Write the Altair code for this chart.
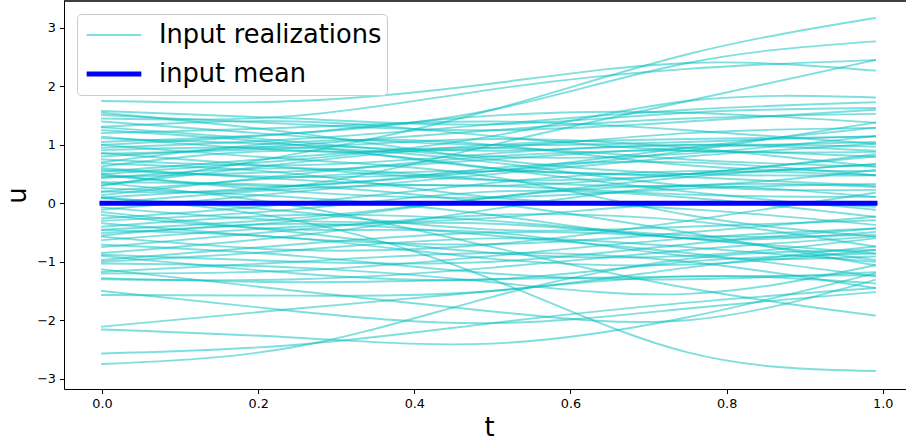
import altair as alt
import pandas as pd

T_KNOTS = [0.0, 0.25, 0.5, 0.75, 0.99]

# realizations: u at the knots
TOP_CURVES = [
    [1.75, 1.75, 2.05, 2.40, 2.27],
    [1.45, 1.50, 1.95, 2.30, 2.45],
    [0.20, 0.30, 1.00, 1.75, 2.45],
    [0.30, 0.85, 1.60, 2.55, 3.17],
    [1.05, 1.20, 1.60, 2.40, 2.77],
    [0.50, 0.75, 1.15, 1.75, 1.81],
]
UPPER_CURVES = [
    [1.58, 1.45, 1.35, 1.55, 1.63],
    [1.55, 1.20, 0.75, 0.50, 0.48],
    [1.51, 1.35, 1.25, 1.40, 1.60],
    [1.40, 1.15, 1.00, 1.05, 1.15],
    [1.31, 1.40, 1.15, 0.90, 0.88],
    [1.30, 1.05, 0.80, 0.85, 1.15],
    [1.25, 1.00, 0.60, 0.50, 0.67],
    [1.20, 1.30, 1.40, 1.25, 1.02],
    [1.14, 0.90, 0.95, 1.20, 1.29],
    [1.11, 1.00, 0.90, 1.00, 0.97],
    [1.00, 0.75, 0.45, -0.20, -0.57],
    [1.00, 1.20, 1.50, 1.55, 1.38],
    [0.95, 1.10, 1.35, 1.60, 1.73],
    [0.91, 0.95, 0.70, 0.30, 0.23],
    [0.86, 0.60, 0.40, 0.50, 0.84],
    [0.85, 0.95, 1.10, 0.95, 0.63],
    [0.80, 1.00, 1.25, 1.45, 1.53],
    [0.75, 0.65, 0.85, 1.00, 0.90],
    [0.70, 1.05, 1.00, 0.65, 0.55],
]
MIDDLE_CURVES = [
    [0.68, 0.50, 0.10, -0.10, -0.37],
    [0.63, 0.90, 0.60, 0.20, -0.11],
    [0.60, 0.40, 0.30, 0.50, 0.80],
    [0.57, 0.45, 0.55, 0.90, 1.38],
    [0.54, 0.80, 0.95, 0.75, 0.63],
    [0.50, 0.30, 0.60, 0.70, 0.48],
    [0.48, 0.20, 0.10, 0.25, 0.33],
    [0.45, 0.55, 0.75, 0.95, 1.05],
    [0.43, 0.60, 0.40, 0.30, 0.57],
    [0.36, 0.30, 0.00, -0.50, -1.06],
    [0.35, -0.05, -0.75, -1.45, -1.92],
    [0.31, 0.70, 1.00, 1.10, 1.14],
    [0.26, 0.10, -0.20, -0.60, -0.49],
    [0.20, 0.45, 0.55, 0.45, 0.30],
    [0.14, 0.50, 0.80, 0.90, 0.80],
    [0.10, 0.30, 0.55, 0.95, 1.29],
    [0.10, -0.30, -1.30, -2.55, -2.87],
    [0.09, -0.15, -0.45, -0.40, -0.29],
    [0.00, 0.25, 0.30, 0.15, 0.11],
    [-0.07, -0.30, -0.25, 0.00, -0.06],
    [-0.11, 0.20, 0.50, 0.80, 1.02],
    [-0.15, -0.50, -0.85, -0.90, -0.60],
    [-0.20, -0.45, -0.50, -0.90, -0.91],
    [-0.26, 0.00, 0.35, 0.55, 0.48],
    [-0.30, -0.10, 0.20, 0.10, -0.23],
]
LOWER_CURVES = [
    [-0.34, -0.60, -0.70, -0.50, -0.23],
    [-0.40, -0.20, -0.30, -0.55, -0.54],
    [-0.45, -0.25, 0.10, 0.45, 0.67],
    [-0.46, -0.60, -0.95, -1.05, -0.80],
    [-0.51, -0.30, 0.10, 0.30, 0.11],
    [-0.55, -0.35, -0.55, -0.85, -1.25],
    [-0.57, -0.80, -0.70, -0.30, 0.18],
    [-0.63, -0.40, -0.35, -0.60, -0.86],
    [-0.71, -0.90, -1.20, -1.30, -1.18],
    [-0.75, -0.45, -0.20, -0.30, -0.74],
    [-0.85, -0.55, -0.10, 0.30, 0.28],
    [-0.88, -1.00, -1.00, -0.70, -0.43],
    [-0.90, -1.20, -1.30, -1.00, -0.86],
    [-0.97, -0.70, -0.50, -0.60, -0.97],
    [-1.00, -0.80, -0.60, -0.75, -1.00],
    [-1.03, -1.10, -1.35, -1.55, -1.06],
    [-1.13, -1.50, -1.85, -2.00, -1.31],
    [-1.17, -1.00, -0.85, -1.00, -1.45],
    [-1.20, -1.15, -0.90, -0.60, -0.43],
    [-1.28, -1.35, -1.30, -1.25, -1.23],
    [-1.30, -1.30, -1.10, -0.80, -0.57],
]
BOTTOM_CURVES = [
    [-1.50, -1.85, -2.05, -1.80, -1.52],
    [-1.57, -1.58, -1.50, -1.10, -0.74],
    [-2.11, -1.80, -1.50, -1.25, -1.37],
    [-2.16, -2.30, -2.40, -1.95, -1.20],
    [-2.57, -2.42, -2.05, -1.70, -1.45],
    [-2.75, -2.45, -1.60, -0.95, -0.80],
]

MEAN_T = [0.0, 0.99]
MEAN_U = [0.0, 0.0]

SERIES = ["Input realizations", "input mean"]
X_TICKS = [0.0, 0.2, 0.4, 0.6, 0.8, 1.0]
Y_TICKS = [-3, -2, -1, 0, 1, 2, 3]

rows = []
cid = 0
for group in (TOP_CURVES, UPPER_CURVES, MIDDLE_CURVES, LOWER_CURVES, BOTTOM_CURVES):
    for curve in group:
        for t, u in zip(T_KNOTS, curve):
            rows.append({"curve": cid, "t": t, "u": u, "series": SERIES[0]})
        cid += 1
real_df = pd.DataFrame(rows)
mean_df = pd.DataFrame({"t": MEAN_T, "u": MEAN_U, "series": SERIES[1]})

W, H = 842, 388
FONT = "DejaVu Sans"

x_scale = alt.Scale(domain=[-0.0487, 1.0298], nice=False, zero=False)
y_scale = alt.Scale(domain=[-3.177, 3.461], nice=False, zero=False)

x_axis = alt.Axis(values=X_TICKS, format=".1f", title="t", grid=False,
                  titleFontSize=25.7, titleX=425, titleY=46,
                  titleBaseline="alphabetic", titleAlign="center")
y_axis = alt.Axis(values=Y_TICKS, format="d", title="u", grid=False,
                  titleFontSize=25.7, titleX=-39, titleY=194, titleAngle=270,
                  titleBaseline="alphabetic", titleAlign="center")

LEG = dict(title=None, orient="none", legendX=13, legendY=13, symbolType="stroke",
           symbolSize=2990, symbolOffset=2, labelFontSize=25.7, labelFont=FONT,
           labelColor="black", labelLimit=500, labelOffset=15, padding=5,
           clipHeight=32, rowPadding=7,
           fillColor="rgba(255,255,255,0.8)", strokeColor="#cccccc", cornerRadius=4)

color = alt.Color("series:N", scale=alt.Scale(domain=SERIES, range=["#00bfbf", "#0000ff"]),
                  legend=alt.Legend(**LEG))
opacity = alt.Opacity("series:N", scale=alt.Scale(domain=SERIES, range=[0.5, 1.0]),
                      legend=alt.Legend(**LEG))
swidth = alt.StrokeWidth("series:N", scale=alt.Scale(domain=SERIES, range=[1.9, 5.1]),
                         legend=alt.Legend(**LEG))

realizations = alt.Chart(real_df).mark_line(interpolate="natural", strokeCap="square").encode(
    x=alt.X("t:Q", scale=x_scale, axis=x_axis),
    y=alt.Y("u:Q", scale=y_scale, axis=y_axis),
    detail="curve:N",
    color=color, opacity=opacity, strokeWidth=swidth,
)
mean_line = alt.Chart(mean_df).mark_line(strokeCap="square").encode(
    x=alt.X("t:Q", scale=x_scale),
    y=alt.Y("u:Q", scale=y_scale),
    color=color, opacity=opacity, strokeWidth=swidth,
)
top_spine = alt.Chart(mean_df).mark_rule(color="black", strokeWidth=1).encode(
    y=alt.value(0), x=alt.value(0), x2=alt.value(W)
)

chart = alt.layer(realizations, mean_line, top_spine).properties(
    width=W, height=H,
    padding={"left": 64, "top": 1, "right": 0, "bottom": 55},
    autosize=alt.AutoSizeParams(type="none"),
).configure_view(stroke=None).configure_axis(
    labelFont=FONT, titleFont=FONT, labelFontSize=12.8, labelColor="black",
    titleColor="black", titleFontWeight="normal", domainColor="black", domainWidth=1,
    tickColor="black", tickWidth=1, tickSize=4.5, labelPadding=4, labelFlush=False,
)

chart.save("out.html", embed_options={"renderer": "svg", "actions": False})
